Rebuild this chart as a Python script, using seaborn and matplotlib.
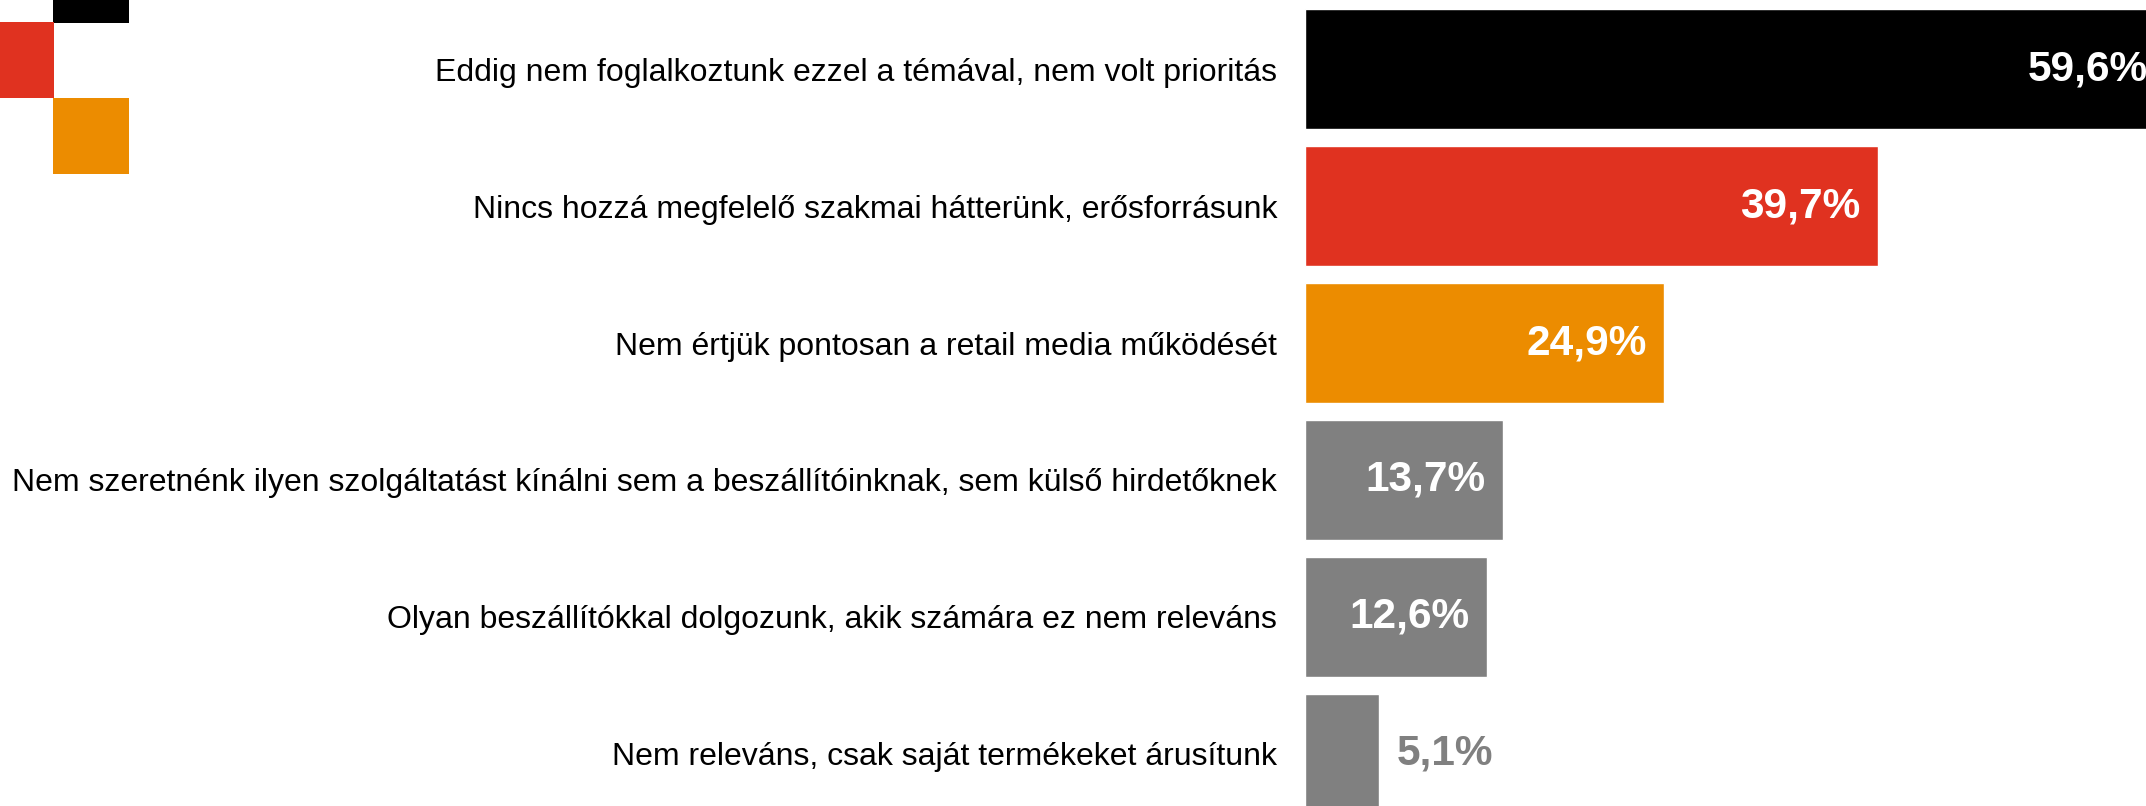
import matplotlib
matplotlib.use('Agg')
import matplotlib.pyplot as plt
import seaborn as sns
import pandas as pd
from matplotlib.patches import Rectangle

# survey answers (Hungarian) and shares in %
categories = [
    'Eddig nem foglalkoztunk ezzel a témával, nem volt prioritás',
    'Nincs hozzá megfelelő szakmai hátterünk, erősforrásunk',
    'Nem értjük pontosan a retail media működését',
    'Nem szeretnénk ilyen szolgáltatást kínálni sem a beszállítóinknak, sem külső hirdetőknek',
    'Olyan beszállítókkal dolgozunk, akik számára ez nem releváns',
    'Nem releváns, csak saját termékeket árusítunk',
]
values = [59.6, 39.7, 24.9, 13.7, 12.6, 5.1]
value_labels = ['59,6%', '39,7%', '24,9%', '13,7%', '12,6%', '5,1%']
bar_colors = ['#000000', '#E03220', '#EC8C00', '#808080', '#808080', '#808080']

sns.set_style('white')
plt.rcParams['font.family'] = ['Liberation Sans', 'DejaVu Sans']

W, H, DPI = 2146, 806, 100
fig = plt.figure(figsize=(W / DPI, H / DPI), dpi=DPI)
ax = fig.add_axes([1305 / W, 0, 1 - 1305 / W, 1])

df = pd.DataFrame({'cat': categories, 'val': values})
sns.barplot(data=df, y='cat', x='val', hue='cat', palette=bar_colors,
            orient='h', width=0.876, legend=False, saturation=1, ax=ax)

ax.set_xlim(0, 58.3)
ax.set_ylim(5.38, -0.504)
for s in ax.spines.values():
    s.set_visible(False)
ax.set_xticks([])
ax.set_xlabel('')
ax.set_ylabel('')
ax.tick_params(axis='y', length=0, pad=20, labelsize=23, labelcolor='#000000')

# value labels: inside bars in white, outside for the small one
for i, (v, lab) in enumerate(zip(values, value_labels)):
    if v > 10:
        ax.annotate(lab, (v, i), xytext=(-12.3, 0), textcoords='offset points',
                    ha='right', va='center', color='white', fontsize=30.5,
                    fontweight='bold', annotation_clip=False)
    else:
        ax.annotate(lab, (v, i), xytext=(13, 0), textcoords='offset points',
                    ha='left', va='center', color='#808080', fontsize=30.5,
                    fontweight='bold', annotation_clip=False)

# decorative squares top-left
def px_rect(x0, y0, x1, y1, c):
    fig.add_artist(Rectangle((x0 / W, 1 - y1 / H), (x1 - x0) / W, (y1 - y0) / H,
                             transform=fig.transFigure, color=c, lw=0))

px_rect(53, 0, 129, 23, '#000000')
px_rect(0, 22, 54, 98, '#E03220')
px_rect(53, 98, 129, 174, '#EC8C00')

fig.savefig('out.png', dpi=DPI)
